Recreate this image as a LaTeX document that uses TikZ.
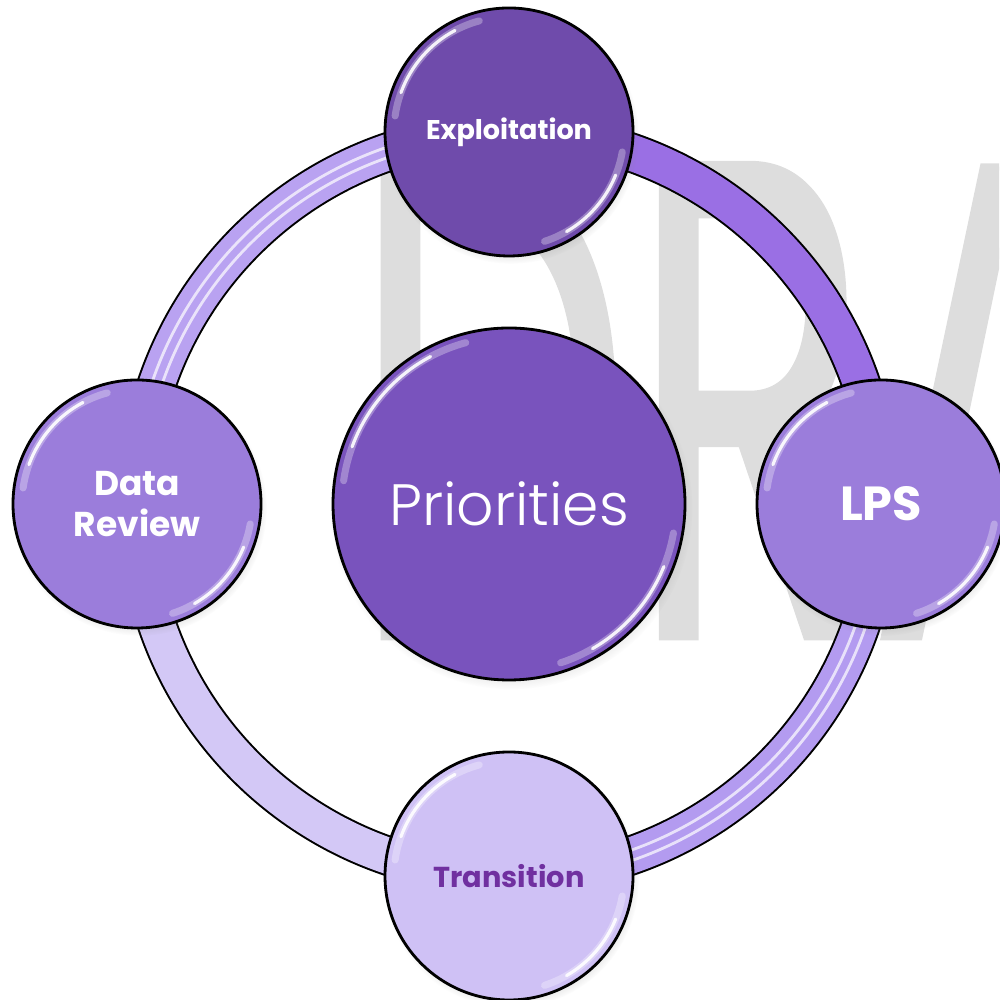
\documentclass[tikz,border=0pt]{standalone}
\usepackage{fontspec}
\setmainfont{Poppins}
\newfontfamily\lightfont{Poppins Light}
\newfontfamily\draftfont{Poppins}[FakeBold=1]
\usetikzlibrary{shadows}

\definecolor{draftgray}{HTML}{DDDDDD}
\definecolor{explfill}{HTML}{6F4BAB}
\definecolor{priofill}{HTML}{7953BD}
\definecolor{midfill}{HTML}{9B7DDB}
\definecolor{transfill}{HTML}{CFC1F5}
\definecolor{transtext}{HTML}{7030A0}
\definecolor{ringNE}{HTML}{9A6FE4}
\definecolor{ringSE}{HTML}{B39BF0}
\definecolor{ringSW}{HTML}{D3C8F6}
\definecolor{ringNW}{HTML}{B9A2F1}

\pgfdeclarelayer{background}
\pgfsetlayers{background,main}

\begin{document}
\begin{tikzpicture}[
        stage/.style={circle, draw=black, line width=0.8pt, minimum size=2.48cm, inner sep=0pt,
            text=white, align=center,
            circular drop shadow={shadow xshift=0.02cm, shadow yshift=-0.04cm, shadow scale=1.03, opacity=0.35}},
        shine/.style={white, line cap=round},
        band/.style={line width=0.36cm},
        stripe/.style={white, line width=0.8pt, opacity=0.7}
    ]
    \useasboundingbox (0,0) rectangle (9.99,10);

    % nodes
    \coordinate (hub) at (5.09,4.96);
    \node[stage, minimum size=3.52cm, fill=priofill, font=\lightfont\fontsize{16.6}{20}\selectfont] (prio) at (hub) {Priorities};
    \node[stage, fill=explfill, font=\bfseries\fontsize{7.7}{9.5}\selectfont] (expl) at (5.09,8.68) {Exploitation};
    \node[stage, fill=midfill, font=\bfseries\fontsize{13.6}{16}\selectfont] (lps) at (8.81,4.96) {LPS};
    \node[stage, fill=transfill, text=transtext, font=\bfseries\fontsize{8.2}{10}\selectfont] (trans) at (5.09,1.24) {Transition};
    \node[stage, fill=midfill, font=\bfseries\fontsize{9.8}{11.7}\selectfont] (data) at (1.37,4.96) {Data\\Review};

    % gloss
    \foreach \n/\r in {expl/1.15, lps/1.15, trans/1.15, data/1.15, prio/1.67} {
        \draw[shine, line width=2pt, opacity=0.3] ([shift={(105:\r)}]\n.center) arc (105:172:\r);
        \draw[shine, line width=0.9pt, opacity=0.9] ([shift={(118:\r)}]\n.center) arc (118:160:\r);
        \draw[shine, line width=2pt, opacity=0.3] ([shift={(-10:\r)}]\n.center) arc (-10:-72:\r);
        \draw[shine, line width=0.9pt, opacity=0.9] ([shift={(-22:\r)}]\n.center) arc (-22:-60:\r);
    }

    \begin{pgfonlayer}{background}
        % watermark
        \begin{scope}
            \clip (0,0) rectangle (9.99,10);
            \node[anchor=base west, inner sep=0pt, text=draftgray, xscale=0.58,
                font=\draftfont\fontsize{193}{193}\selectfont] (draft) at (3.52,3.63) {DRAFT};
        \end{scope}

        % ring
        \draw[line width=0.40cm, black] (hub) circle (3.72);
        \draw[band, ringNE] (expl.center) arc (90:0:3.72);
        \draw[band, ringSE] (lps.center) arc (0:-90:3.72);
        \draw[band, ringSW] (trans.center) arc (270:180:3.72);
        \draw[band, ringNW] (data.center) arc (180:90:3.72);

        \draw[stripe] ([shift={(0:3.77)}]hub) arc (0:-90:3.77);
        \draw[stripe] ([shift={(0:3.67)}]hub) arc (0:-90:3.67);
        \draw[stripe] ([shift={(180:3.77)}]hub) arc (180:90:3.77);
        \draw[stripe] ([shift={(180:3.67)}]hub) arc (180:90:3.67);
    \end{pgfonlayer}
\end{tikzpicture}
\end{document}
